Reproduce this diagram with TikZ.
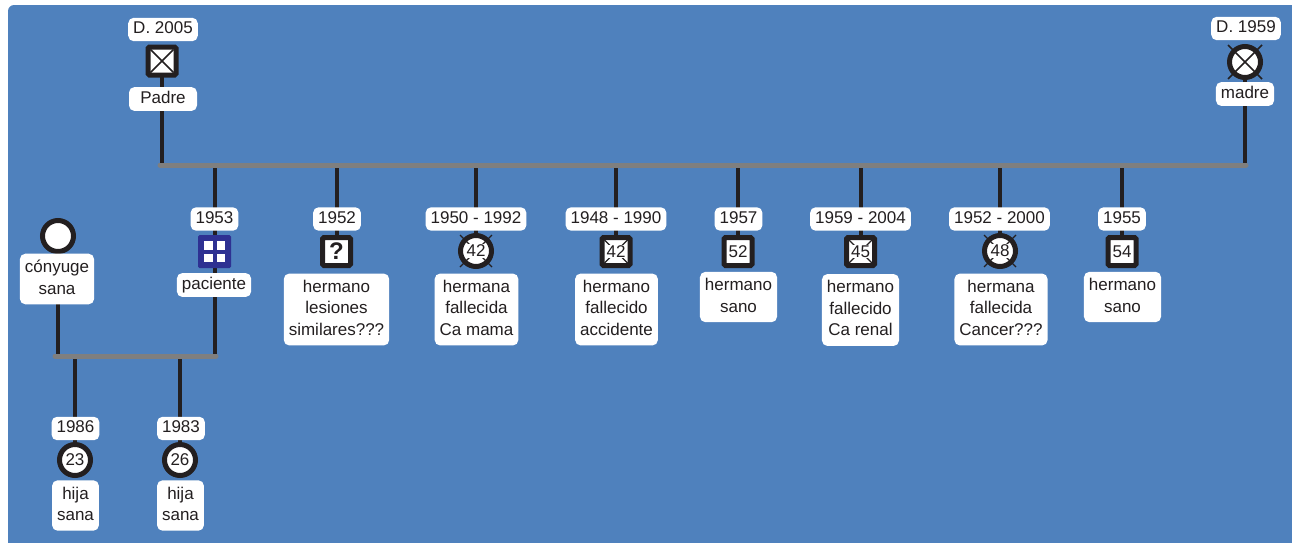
\documentclass[tikz,border=0pt]{standalone}
\usepackage{fontspec}
\setmainfont{Liberation Sans}
\pgfdeclarelayer{bgl}
\pgfdeclarelayer{lines}
\pgfsetlayers{bgl,lines,main}
\definecolor{bgblue}{HTML}{4F81BD}
\definecolor{ink}{HTML}{231F20}
\definecolor{barg}{HTML}{7F7F7F}
\definecolor{patblue}{HTML}{2E3192}
\newcommand\lstrut{\rule[-3.6pt]{0pt}{12.4pt}}
\begin{document}
\begin{tikzpicture}[x=1pt,y=-1pt,
  lbl/.style={fill=white, rounded corners=5.5, inner xsep=5, inner ysep=4, align=center, text=ink,
    font=\fontsize{17}{21.5}\selectfont, execute at begin node=\lstrut, execute at end node=\lstrut},
  mlbl/.style={lbl, inner ysep=6.5},
  sqsym/.style={rectangle, draw=ink, line width=5, fill=white, minimum size=28, inner sep=0, rounded corners=1.5},
  circsym/.style={circle, draw=ink, line width=5, fill=white, minimum size=31, inner sep=0},
  numtxt/.style={fill=white, inner sep=0.6, text=ink, font=\fontsize{17}{17}\selectfont},
  vline/.style={draw=ink, line width=4},
  hbar/.style={draw=barg, line width=5, line cap=round},
  xmark/.style={draw=ink, line width=1.2},
]
\useasboundingbox (0,0) rectangle (1292,542);
\begin{pgfonlayer}{bgl}
  \begin{scope}
    \clip (0,0) rectangle (1292,542);
    \fill[bgblue, rounded corners=6] (8,5) rectangle (1320,570);
  \end{scope}
\end{pgfonlayer}

% parents
\node[lbl] (dpad) at (163,29.5) {D. 2005};
\node[sqsym] (padre) at (162,61) {};
\draw[xmark, line width=1.5] ([shift={(-11.5,-11.5)}]padre.center) -- ([shift={(11.5,11.5)}]padre.center);
\draw[xmark, line width=1.5] ([shift={(-11.5,11.5)}]padre.center) -- ([shift={(11.5,-11.5)}]padre.center);
\node[lbl, minimum width=68] (lpad) at (163,99) {Padre};

\node[lbl] (dmad) at (1246,28.5) {D. 1959};
\node[circsym] (madre) at (1245,62) {};
\draw[xmark, line width=1.5] ([shift={(-17,-17)}]madre.center) -- ([shift={(17,17)}]madre.center);
\draw[xmark, line width=1.5] ([shift={(-17,17)}]madre.center) -- ([shift={(17,-17)}]madre.center);
\node[lbl] (lmad) at (1245,94) {madre};

\coordinate (barL) at (160,165);
\coordinate (barR) at (1246,165);

% patient
\node[lbl] (ypac) at (214.5,219) {1953};
\node[rectangle, fill=patblue, minimum size=33, inner sep=0, rounded corners=1.5] (pac) at (214.5,251.5) {};
\fill[white] ([shift={(-10.5,-10.5)}]pac.center) rectangle ++(8.5,8.5);
\fill[white] ([shift={(2,-10.5)}]pac.center) rectangle ++(8.5,8.5);
\fill[white] ([shift={(-10.5,2)}]pac.center) rectangle ++(8.5,8.5);
\fill[white] ([shift={(2,2)}]pac.center) rectangle ++(8.5,8.5);
\node[lbl] (lpac) at (214,285) {paciente};

% siblings
\node[lbl] (y1) at (337,219) {1952};
\node[sqsym] (s1) at (336.5,251.5) {};
\node[text=ink, inner sep=0, font=\fontsize{24}{24}\selectfont\bfseries] at (s1.center) {?};
\node[mlbl] (l1) at (336.5,309.5) {hermano\\lesiones\\similares???};

\node[lbl] (y2) at (476,219) {1950 - 1992};
\node[circsym] (s2) at (476,251) {};
\draw[xmark] ([shift={(-16,-16)}]s2.center) -- ([shift={(16,16)}]s2.center);
\draw[xmark] ([shift={(-16,16)}]s2.center) -- ([shift={(16,-16)}]s2.center);
\node[numtxt] at (s2.center) {42};
\node[mlbl] (l2) at (476.5,309.5) {hermana\\fallecida\\Ca mama};

\node[lbl] (y3) at (616,219) {1948 - 1990};
\node[sqsym] (s3) at (616,251.5) {};
\draw[xmark] ([shift={(-11.5,-11.5)}]s3.center) -- ([shift={(11.5,11.5)}]s3.center);
\draw[xmark] ([shift={(-11.5,11.5)}]s3.center) -- ([shift={(11.5,-11.5)}]s3.center);
\node[numtxt] at (s3.center) {42};
\node[mlbl] (l3) at (616.5,309.5) {hermano\\fallecido\\accidente};

\node[lbl] (y4) at (738.5,219) {1957};
\node[sqsym] (s4) at (738,251.5) {};
\node[numtxt] at (s4.center) {52};
\node[mlbl] (l4) at (738.5,297) {hermano\\sano};

\node[lbl] (y5) at (860.5,219) {1959 - 2004};
\node[sqsym] (s5) at (860.5,251.5) {};
\draw[xmark] ([shift={(-11.5,-11.5)}]s5.center) -- ([shift={(11.5,11.5)}]s5.center);
\draw[xmark] ([shift={(-11.5,11.5)}]s5.center) -- ([shift={(11.5,-11.5)}]s5.center);
\node[numtxt] at (s5.center) {45};
\node[mlbl] (l5) at (860.5,310) {hermano\\fallecido\\Ca renal};

\node[lbl] (y6) at (999.5,219) {1952 - 2000};
\node[circsym] (s6) at (1000,251) {};
\draw[xmark] ([shift={(-16,-16)}]s6.center) -- ([shift={(16,16)}]s6.center);
\draw[xmark] ([shift={(-16,16)}]s6.center) -- ([shift={(16,-16)}]s6.center);
\node[numtxt] at (s6.center) {48};
\node[mlbl] (l6) at (1001,309.5) {hermana\\fallecida\\Cancer???};

\node[lbl] (y7) at (1122,219) {1955};
\node[sqsym] (s7) at (1122,251.5) {};
\node[numtxt] at (s7.center) {54};
\node[mlbl] (l7) at (1122.5,297) {hermano\\sano};

% spouse
\node[circsym] (cony) at (58,236) {};
\node[mlbl] (lcony) at (57,279) {cónyuge\\sana};

\coordinate (lowL) at (55,356);
\coordinate (lowR) at (216,356);

% daughters
\node[lbl] (yk1) at (75.5,428.5) {1986};
\node[circsym] (k1) at (75,460) {};
\node[numtxt] at (k1.center) {23};
\node[mlbl] (lk1) at (75.5,505.5) {hija\\sana};

\node[lbl] (yk2) at (181,428.5) {1983};
\node[circsym] (k2) at (180,460) {};
\node[numtxt] at (k2.center) {26};
\node[mlbl] (lk2) at (180.5,505.5) {hija\\sana};

% connectors
\begin{pgfonlayer}{lines}
  \draw[vline] (padre.center) -- (padre.center |- barL);
  \draw[vline] (madre.center) -- (madre.center |- barL);
  \draw[vline] (pac.center |- barL) -- (pac.center |- lowR);
  \foreach \s in {s1,s2,s3,s4,s5,s6,s7} {
    \draw[vline] (\s.center |- barL) -- (\s.center);
  }
  \draw[vline] (cony.center) -- (cony.center |- lowL);
  \draw[vline] (k1.center |- lowL) -- (k1.center);
  \draw[vline] (k2.center |- lowL) -- (k2.center);
  \draw[hbar] (barL) -- (barR);
  \draw[hbar] (lowL) -- (lowR);
\end{pgfonlayer}
\end{tikzpicture}
\end{document}
